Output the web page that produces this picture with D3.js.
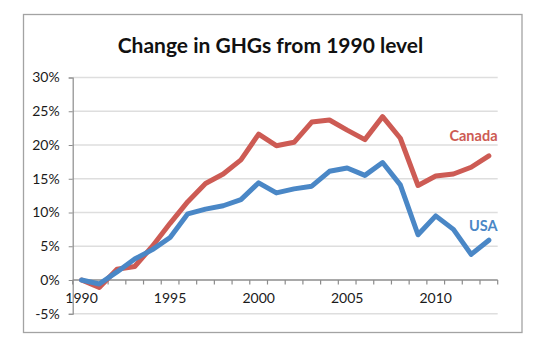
<!DOCTYPE html>
<html>
<head>
<meta charset="utf-8">
<script src="https://cdn.jsdelivr.net/npm/d3@7"></script>
<style>
  body { margin: 0; background: #fff; }
  svg { display: block; font-family: Lato, "Open Sans", sans-serif; }
</style>
</head>
<body>
<svg></svg>
<script>
// size of the page and the plot area
var width = 547,
    height = 348,
    plot = {left: 72.7, right: 497.7, top: 77.5, bottom: 313.75};

var years = [1990, 1991, 1992, 1993, 1994, 1995, 1996, 1997, 1998, 1999, 2000, 2001,
             2002, 2003, 2004, 2005, 2006, 2007, 2008, 2009, 2010, 2011, 2012, 2013];

// percent change from the 1990 level
var canada = [0, -1.1, 1.6, 2.0, 5.0, 8.4, 11.6, 14.3, 15.7, 17.8, 21.6, 19.9,
              20.4, 23.4, 23.7, 22.2, 20.8, 24.2, 21.0, 14.0, 15.4, 15.7, 16.7, 18.4];
var usa = [0, -0.6, 1.2, 3.1, 4.5, 6.3, 9.8, 10.5, 11.0, 11.9, 14.4, 12.9,
           13.5, 13.9, 16.1, 16.6, 15.5, 17.4, 14.1, 6.7, 9.5, 7.5, 3.8, 5.9];

var yTicks = [-5, 0, 5, 10, 15, 20, 25, 30];
var xLabels = [1990, 1995, 2000, 2005, 2010];

var series = [
  {name: "Canada", values: canada, color: "#cd5b54", labelY: 141},
  {name: "USA", values: usa, color: "#4a87c6", labelY: 231}
];

var svg = d3.select("svg")
    .attr("width", width)
    .attr("height", height);

var x = d3.scaleBand()
    .domain(years)
    .range([plot.left, plot.right])
    .padding(0);

var y = d3.scaleLinear()
    .domain([-5, 30])
    .range([plot.bottom, plot.top]);

var xMid = function(yr) { return x(yr) + x.bandwidth() / 2; };

// chart frame
svg.append("rect")
    .attr("x", 23.5)
    .attr("y", 14.5)
    .attr("width", 498.5)
    .attr("height", 318)
    .attr("fill", "none")
    .attr("stroke", "#a3a3a3")
    .attr("stroke-width", 1.3);

// title
svg.append("text")
    .attr("x", 270.5)
    .attr("y", 53)
    .attr("text-anchor", "middle")
    .attr("font-size", 21)
    .attr("font-weight", "bold")
    .attr("fill", "#111")
    .text("Change in GHGs from 1990 level");

// horizontal gridlines
svg.append("g")
  .selectAll("line")
  .data(yTicks.filter(function(d) { return d !== 0; }))
  .enter().append("line")
    .attr("x1", plot.left)
    .attr("x2", plot.right)
    .attr("y1", function(d) { return y(d); })
    .attr("y2", function(d) { return y(d); })
    .attr("stroke", "#dedede")
    .attr("stroke-width", 1.3);

// y axis
var yAxis = d3.axisLeft(y)
    .tickValues(yTicks)
    .tickFormat(function(d) { return d + "%"; })
    .tickSize(4)
    .tickPadding(9);

var gy = svg.append("g")
    .attr("transform", "translate(" + plot.left + ",0)")
    .call(yAxis);
gy.select(".domain").attr("stroke", "#8c8c8c").attr("stroke-width", 1.2);
gy.selectAll(".tick line").attr("stroke", "#8c8c8c");
gy.selectAll(".tick text")
    .attr("font-size", 14)
    .attr("font-family", "Lato, sans-serif")
    .attr("fill", "#1a1a1a");

// x axis along the zero line, ticks between categories
var gx = svg.append("g");
gx.append("line")
    .attr("x1", plot.left)
    .attr("x2", plot.right)
    .attr("y1", y(0))
    .attr("y2", y(0))
    .attr("stroke", "#8c8c8c")
    .attr("stroke-width", 1.5);

gx.selectAll(".xtick")
  .data(years.concat(["end"]))
  .enter().append("line")
    .attr("class", "xtick")
    .attr("x1", function(d) { return d === "end" ? plot.right : x(d); })
    .attr("x2", function(d) { return d === "end" ? plot.right : x(d); })
    .attr("y1", y(0))
    .attr("y2", y(0) + 4.5)
    .attr("stroke", "#8c8c8c")
    .attr("stroke-width", 1.2);

gx.selectAll(".xlabel")
  .data(xLabels)
  .enter().append("text")
    .attr("class", "xlabel")
    .attr("x", function(d) { return xMid(d); })
    .attr("y", y(0) + 22.5)
    .attr("text-anchor", "middle")
    .attr("font-size", 14)
    .attr("fill", "#1a1a1a")
    .text(function(d) { return d; });

// the two series
var line = d3.line()
    .x(function(d, i) { return xMid(years[i]); })
    .y(function(d) { return y(d); });

svg.selectAll(".series")
  .data(series)
  .enter().append("path")
    .attr("class", "series")
    .attr("d", function(s) { return line(s.values); })
    .attr("fill", "none")
    .attr("stroke", function(s) { return s.color; })
    .attr("stroke-width", 5)
    .attr("stroke-linejoin", "round")
    .attr("stroke-linecap", "round");

// series names at the right end
svg.selectAll(".name")
  .data(series)
  .enter().append("text")
    .attr("class", "name")
    .attr("x", 497.5)
    .attr("y", function(s) { return s.labelY; })
    .attr("text-anchor", "end")
    .attr("font-size", 14.5)
    .attr("font-weight", "bold")
    .attr("fill", function(s) { return s.color; })
    .text(function(s) { return s.name; });
</script>
</body>
</html>
